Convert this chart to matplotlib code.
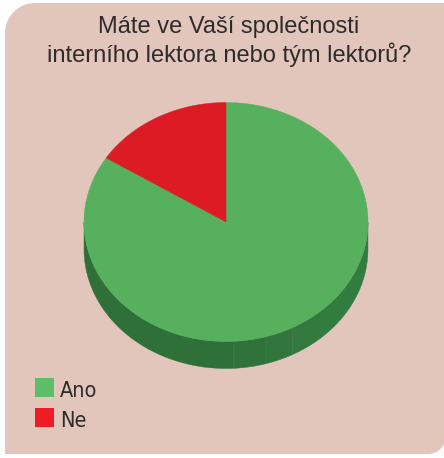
import numpy as np
import matplotlib
matplotlib.use("Agg")
import matplotlib.pyplot as plt
from matplotlib.patches import Polygon, Rectangle

title_lines = ["Máte ve Vaší společnosti", "interního lektora nebo tým lektorů?"]
labels = ["Ano", "Ne"]
values = [84, 16]
top_colors = ["#57B05D", "#DC1B24"]
side_colors = ["#2E7038", "#9A1318"]
legend_colors = ["#5CBE66", "#EE1C25"]

BG = "#E2C6BB"
TEXT = "#2E2B2B"

fig = plt.figure(figsize=(4.44, 4.58), dpi=100)
ax = fig.add_axes([0, 0, 1, 1])
ax.set_xlim(0, 444)
ax.set_ylim(458, 0)
ax.axis("off")


def arc(cx, cy, r, a0, a1, n=20):
    t = np.radians(np.linspace(a0, a1, n))
    return np.column_stack([cx + r * np.cos(t), cy + r * np.sin(t)])


# background panel, rounded top-left and bottom-right corners
left, top, right, bottom = 5, 3, 446, 454
r1, r2 = 30, 18
pts = np.vstack([
    arc(left + r1, top + r1, r1, 180, 270),
    [[right, top]],
    arc(right - r2, bottom - r2, r2, 0, 90),
    [[left, bottom]],
])
ax.add_patch(Polygon(pts, closed=True, facecolor=BG, edgecolor="none"))

# title
for i, line in enumerate(title_lines):
    ax.text(229, 33 + 29 * i, line, ha="center", va="baseline",
            fontsize=17, color=TEXT, family=["Liberation Sans", "DejaVu Sans"])

# 3d pie
cx, cy, rx, ry, depth = 226, 222, 142, 119.5, 27
fracs = np.array(values, dtype=float) / sum(values)
bounds = 90 - 360 * np.concatenate([[0], np.cumsum(fracs)])  # clockwise from top


def ell(t):
    t = np.radians(t)
    return np.column_stack([cx + rx * np.cos(t), cy - ry * np.sin(t)])


# side walls (visible front half: 180..360 degrees), a few facets with slightly lighter shade
shade_steps = [(180, 273, 0.0), (273, 286, 0.02), (286, 298, 0.04),
               (298, 312, 0.06), (312, 360, 0.08)]
for i in range(len(values)):
    a_hi, a_lo = bounds[i], bounds[i + 1]
    base = np.array(matplotlib.colors.to_rgb(side_colors[i]))
    for k in range(-1, 2):
        lo, hi = a_lo + 360 * k, a_hi + 360 * k
        for s0, s1, lift in shade_steps:
            s = max(lo, s0)
            e = min(hi, s1)
            if e <= s:
                continue
            t = np.linspace(s, e, 60)
            upper = ell(t)
            lower = upper + [0, depth]
            col = np.clip(base + lift * np.array([0.25, 0.6, 0.35]), 0, 1)
            ax.add_patch(Polygon(np.vstack([upper, lower[::-1]]), closed=True,
                                 facecolor=col, edgecolor=col, linewidth=0.3))

# top faces
for i in range(len(values)):
    t = np.linspace(bounds[i + 1], bounds[i], 200)
    poly = np.vstack([[cx, cy], ell(t)])
    ax.add_patch(Polygon(poly, closed=True, facecolor=top_colors[i],
                         edgecolor=top_colors[i], linewidth=0.3))

# legend
for i, lab in enumerate(labels):
    y = 378 + 30 * i
    ax.add_patch(Rectangle((35, y), 19, 19, facecolor=legend_colors[i], edgecolor="none"))
    ax.text(60, y + 19, lab, ha="left", va="baseline", fontsize=15.5, color=TEXT,
            family="DejaVu Sans", stretch="condensed")

fig.savefig("out.png", dpi=100, facecolor="white")
